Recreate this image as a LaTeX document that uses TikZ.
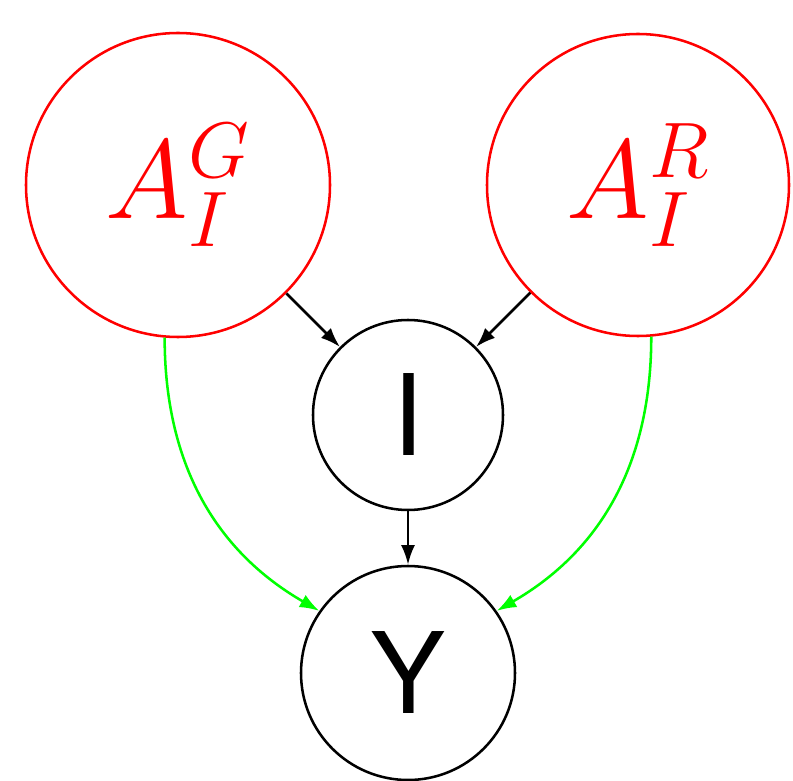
\RequirePackage{fix-cm}
\documentclass[tikz,border=0pt]{standalone}
\usepackage{fontspec}
\setsansfont{TeX Gyre Heros}
\usetikzlibrary{arrows.meta,positioning}
\definecolor{NodeRed}{RGB}{255,0,0}
\definecolor{PathGreen}{RGB}{0,255,0}

\begin{document}
\begin{tikzpicture}[
    var/.style={
      draw=#1,
      circle,
      line width=1.8pt,
      inner sep=0pt,
      font=\fontsize{80}{90}\selectfont
    },
    edge/.style={
      -{Latex[length=14pt,width=10pt]},
      line width=1.8pt
    }
  ]
  \useasboundingbox (0,0) rectangle (19.825,19.5);

  % Variables
  \node[var=NodeRed,minimum size=7.6cm,text=NodeRed]   (ag) at (4.45,14.875)  {$A_I^G$};
  \node[var=NodeRed,minimum size=7.55cm,text=NodeRed]  (ar) at (15.95,14.875) {$A_I^R$};
  \node[var=black,minimum size=4.75cm,font=\fontsize{80}{90}\selectfont\sffamily]
    (i) at (10.2,9.125) {I};
  \node[var=black,minimum size=5.35cm,font=\fontsize{80}{90}\selectfont\sffamily]
    (y) at (10.2,2.675) {Y};

  % Edges
  \draw[edge] (ag) -- (i);
  \draw[edge] (ar) -- (i);
  \draw[edge] (i) -- (y);
  \draw[edge,color=PathGreen] (ag.265) to[out=-90,in=150] (y.145);
  \draw[edge,color=PathGreen] (ar.275) to[out=-90,in=30] (y.35);

\end{tikzpicture}
\end{document}
